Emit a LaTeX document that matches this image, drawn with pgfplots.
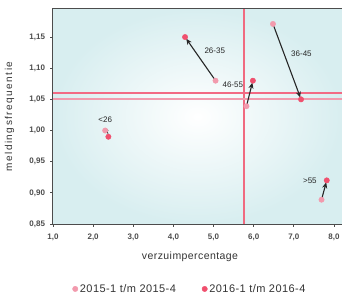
\documentclass[border=0pt]{standalone}
\usepackage{pgfplots}
\pgfplotsset{compat=1.18}
\usepackage{fontspec}
\setmainfont{Liberation Sans}
\newfontfamily\wide[LetterSpace=15]{Liberation Sans}
\newfontfamily\semi[LetterSpace=4]{Liberation Sans}
\usetikzlibrary{arrows.meta}
\definecolor{lp}{HTML}{F29AAD}
\definecolor{dp}{HTML}{F0506E}
\definecolor{vl}{HTML}{F06A80}
\definecolor{bgc}{HTML}{D8EEF0}
\begin{document}
\begin{tikzpicture}
\useasboundingbox (-53pt,-73pt) rectangle (289pt,224pt);
\begin{axis}[
  at={(0,0)}, anchor=south west,
  width=289pt, height=215pt, scale only axis,
  xmin=1, xmax=8.2, ymin=0.85, ymax=1.195,
  xtick={1,2,...,8}, ytick={0.85,0.90,...,1.16},
  xticklabel={\pgfmathprintnumber[fixed,fixed zerofill,precision=1,use comma]{\tick}},
  yticklabel={\pgfmathprintnumber[fixed,fixed zerofill,precision=2,use comma]{\tick}},
  /pgf/number format/assume math mode=true,
  tick label style={font=\fontsize{8}{9}\selectfont\bfseries, text=black!70},
  yticklabel style={xshift=-2pt},
  xticklabel style={yshift=-4pt},
  tick align=outside, major tick length=2.5pt,
  xtick pos=bottom, ytick pos=left,
  axis line style={black!70, line width=1pt},
  tick style={black!70, line width=0.8pt},
  xlabel={verzuimpercentage}, ylabel={meldingsfrequentie},
  xlabel style={font=\semi\fontsize{10.5}{11}\selectfont, text=black!80, at={(axis description cs:0.474,-0.153)}, anchor=center},
  ylabel style={font=\wide\fontsize{10}{11}\selectfont, text=black!80, at={(axis description cs:-0.15,0.5)}, anchor=center},
  axis background/.style={inner color=white, outer color=bgc, shading=radial},
  clip=false,
  legend style={at={(0.474,-0.302)}, anchor=center, draw=none, fill=none,
    font=\semi\fontsize{11}{12}\selectfont, text=black!80, legend columns=2,
    /tikz/every even column/.append style={column sep=24pt}},
  legend cell align=left,
]
\addplot[vl, line width=2.2pt, forget plot] coordinates {(5.76,0.85) (5.76,1.195)};
\addplot[dp!85, line width=2pt, forget plot] coordinates {(1,1.06) (8.2,1.06)};
\addplot[lp, line width=2pt, forget plot] coordinates {(1,1.05) (8.2,1.05)};
\addplot[only marks, mark=*, mark size=2.7pt, color=lp] coordinates {
  (2.30,1.000) (5.05,1.080) (6.48,1.171) (5.82,1.039) (7.69,0.889)};
\addlegendentry{2015-1 t/m 2015-4}
\addplot[only marks, mark=*, mark size=2.7pt, color=dp] coordinates {
  (2.38,0.990) (4.29,1.150) (7.18,1.050) (5.98,1.080) (7.82,0.920)};
\addlegendentry{2016-1 t/m 2016-4}
\addplot[black!85, line width=1.1pt, -{Stealth[length=6pt,width=5pt]}, shorten >=2pt, forget plot] coordinates {(5.05,1.080) (4.29,1.150)};
\addplot[black!85, line width=1.1pt, -{Stealth[length=6pt,width=5pt]}, shorten >=2pt, forget plot] coordinates {(6.48,1.171) (7.18,1.050)};
\addplot[black!85, line width=1.1pt, -{Stealth[length=6pt,width=5pt]}, shorten >=2pt, forget plot] coordinates {(5.82,1.039) (5.98,1.080)};
\addplot[black!85, line width=1.1pt, -{Stealth[length=6pt,width=5pt]}, shorten >=2pt, forget plot] coordinates {(7.69,0.889) (7.82,0.920)};
\addplot[black!85, line width=0.8pt, -{Stealth[length=3.5pt,width=3.5pt]}, forget plot] coordinates {(2.37,0.995) (2.31,1.004)};
\node[font=\fontsize{8}{9}\selectfont, text=black!85] at (axis cs:5.03,1.128) {26-35};
\node[font=\fontsize{8}{9}\selectfont, text=black!85] at (axis cs:5.48,1.073) {46-55};
\node[font=\fontsize{8}{9}\selectfont, text=black!85] at (axis cs:7.19,1.124) {36-45};
\node[font=\fontsize{8}{9}\selectfont, text=black!85] at (axis cs:2.30,1.017) {<26};
\node[font=\fontsize{8}{9}\selectfont, text=black!85] at (axis cs:7.40,0.920) {>55};
\end{axis}
\end{tikzpicture}
\end{document}
